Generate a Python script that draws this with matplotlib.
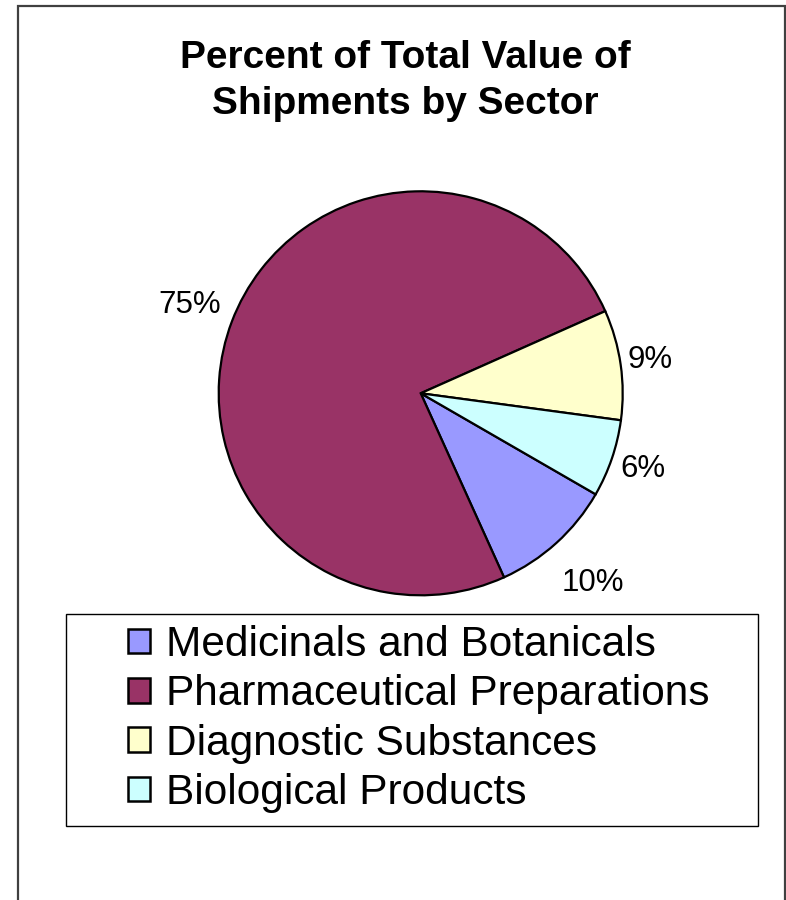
import numpy as np
import matplotlib.pyplot as plt
from matplotlib.patches import Rectangle

# sector shares (percent)
sectors = ['Medicinals and Botanicals', 'Pharmaceutical Preparations',
           'Diagnostic Substances', 'Biological Products']
shares = [9.9, 75.1, 8.8, 6.2]
pct_labels = ['10%', '75%', '9%', '6%']
colors = ['#9999FF', '#993366', '#FFFFCC', '#CCFFFF']

# radial offset of each percent label (in pie radii)
label_dist = [1.27, 1.225, 1.145, 1.16]

plt.rcParams['font.family'] = ['Liberation Sans', 'DejaVu Sans']

W, H = 786, 900
fig = plt.figure(figsize=(W / 100, H / 100), dpi=100)

# outer chart border (bottom edge is cut off in the reference)
fig.patches.append(Rectangle((18 / W, -0.01), (785 - 18) / W, (H - 6) / H + 0.01,
                             transform=fig.transFigure, fill=False,
                             edgecolor='#404040', lw=1.6))

fig.text(405 / W, 1 - 81 / H, 'Percent of Total Value of\nShipments by Sector',
         ha='center', va='center', fontsize=28, fontweight='bold',
         linespacing=1.38)

# pie
cx, cy, r = 420.7, 393.3, 202
ax = fig.add_axes([(cx - r) / W, (H - cy - r) / H, 2 * r / W, 2 * r / H])
wedges, _ = ax.pie(shares, colors=colors, startangle=-30.0, counterclock=False,
                   wedgeprops=dict(edgecolor='black', linewidth=1.6))
ax.set_xlim(-1, 1)
ax.set_ylim(-1, 1)
ax.set_aspect('auto')
ax.axis('off')

for w, lab, d in zip(wedges, pct_labels, label_dist):
    mid = np.deg2rad((w.theta1 + w.theta2) / 2)
    ax.text(d * np.cos(mid), d * np.sin(mid), lab, ha='center', va='center',
            fontsize=22.5, clip_on=False)

# legend frame
fig.patches.append(Rectangle((66 / W, 1 - 826 / H), (758 - 66) / W, (826 - 614) / H,
                             transform=fig.transFigure, fill=False,
                             edgecolor='black', lw=1.0))
handles = [Rectangle((0, 0), 1, 1, facecolor=c, edgecolor='black', lw=1.8)
           for c in colors]
fig.legend(handles, sectors, loc='upper left',
           bbox_to_anchor=(128 / W, 1 - 625 / H), frameon=False,
           fontsize=30.5, borderpad=0, borderaxespad=0,
           handlelength=0.52, handleheight=0.52, handletextpad=0.37,
           labelspacing=0.22)

fig.savefig('out.png', dpi=100)
